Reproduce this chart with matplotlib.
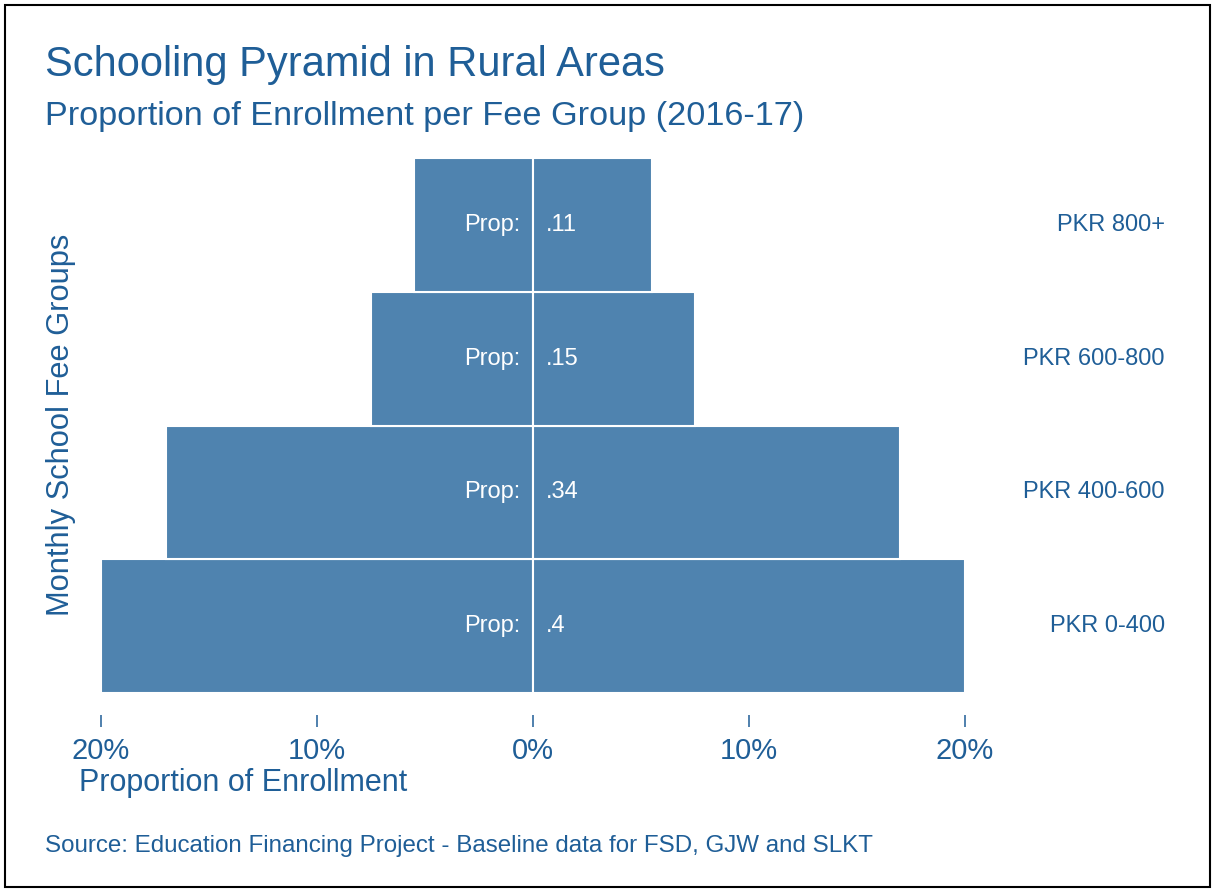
import matplotlib
matplotlib.use("Agg")
import matplotlib.pyplot as plt
from matplotlib.patches import Rectangle

plt.rcParams["font.family"] = ["Liberation Sans", "DejaVu Sans"]

groups = ["PKR 0-400", "PKR 400-600", "PKR 600-800", "PKR 800+"]
props = [0.4, 0.34, 0.15, 0.11]
prop_labels = [".4", ".34", ".15", ".11"]
tick_vals = [-20, -10, 0, 10, 20]
tick_labels = ["20%", "10%", "0%", "10%", "20%"]

bar_col = "#4f83af"
txt_col = "#1f5e97"

W, H = 1214, 891
fig = plt.figure(figsize=(W / 100, H / 100), dpi=100)
fig.patch.set_facecolor("white")

# axes placed in pixel terms
left, right, top, bottom = 90, 1170, 158, 693
ax = fig.add_axes([left / W, 1 - bottom / H, (right - left) / W, (bottom - top) / H])

ypos = list(range(len(groups)))
half = [p * 100 / 2 for p in props]  # each side holds half of the share, in %
ax.barh(ypos, [-h for h in half], height=1.0, color=bar_col, edgecolor="white", linewidth=1.5)
ax.barh(ypos, half, height=1.0, color=bar_col, edgecolor="white", linewidth=1.5)

for y, lab in zip(ypos, prop_labels):
    ax.text(-0.6, y, "Prop:", color="white", fontsize=17, ha="right", va="center")
    ax.text(0.6, y, lab, color="white", fontsize=17, ha="left", va="center")

xmin, xmax = -20.51, 29.49
ax.set_xlim(xmin, xmax)
ax.set_ylim(-0.5, 3.5)

for y, g in zip(ypos, groups):
    ax.text(29.25, y, g, color=txt_col, fontsize=17, ha="right", va="center")

for s in ["top", "right", "left"]:
    ax.spines[s].set_visible(False)
# moving the spine resets the ticks, so do it before styling them
ax.spines["bottom"].set_position(("outward", 16))
ax.spines["bottom"].set_visible(False)
ax.set_xticks(tick_vals)
ax.set_xticklabels(tick_labels)
ax.set_yticks([])
ax.tick_params(axis="x", length=8.5, width=1.1, color=txt_col, pad=7,
               labelsize=21, labelcolor=txt_col)

def fx(px):
    return px / W

def fy(py):
    return 1 - py / H

fig.text(fx(45), fy(65), "Schooling Pyramid in Rural Areas", fontsize=30, color=txt_col,
         ha="left", va="center")
fig.text(fx(45), fy(116), "Proportion of Enrollment per Fee Group (2016-17)", fontsize=24.7,
         color=txt_col, ha="left", va="center")
fig.text(fx(61), fy(425), "Monthly School Fee Groups", fontsize=22.2, color=txt_col,
         rotation=90, ha="center", va="center")
fig.text(fx(79), fy(783), "Proportion of Enrollment", fontsize=22, color=txt_col,
         ha="left", va="center")
fig.text(fx(45), fy(846), "Source: Education Financing Project - Baseline data for FSD, GJW and SLKT",
         fontsize=17.4, color=txt_col, ha="left", va="center")

fig.add_artist(Rectangle((fx(5), fy(887)), fx(1205), 882 / H, transform=fig.transFigure,
                         fill=False, edgecolor="black", linewidth=1.5))

fig.savefig("out.png", dpi=100, facecolor="white")
